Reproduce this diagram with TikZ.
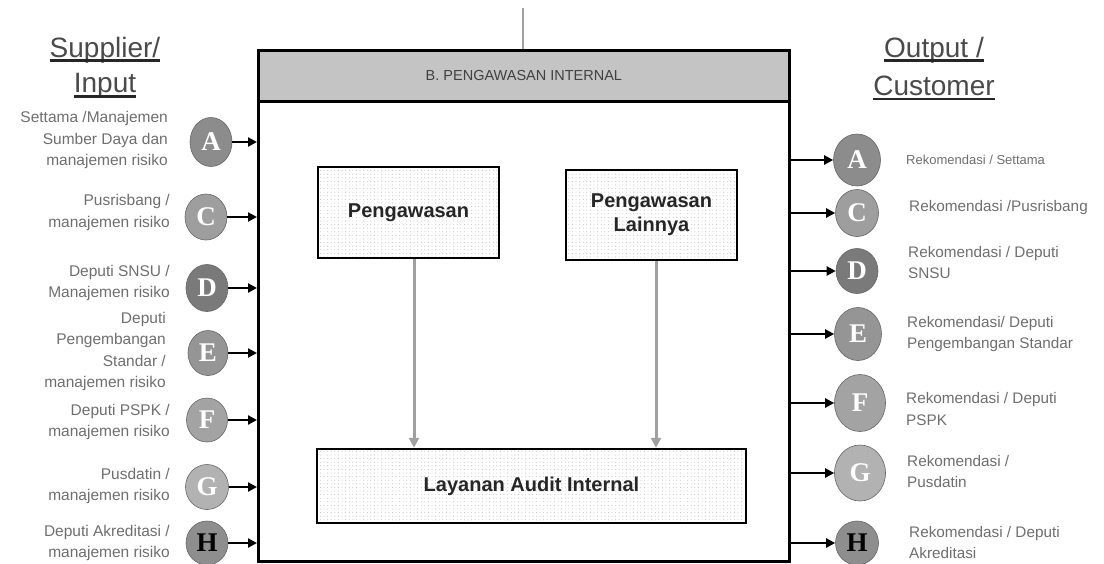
\documentclass[tikz,border=0pt]{standalone}
\usepackage{fontspec}
\setmainfont{Liberation Sans}
\newfontfamily\serifletter{Liberation Serif}
\usetikzlibrary{shapes.geometric,arrows.meta,patterns.meta}
\definecolor{txtgray}{HTML}{6E6E6E}
\definecolor{headgray}{HTML}{4A4A4A}
\definecolor{hdrfill}{HTML}{C4C4C4}
\definecolor{linegray}{HTML}{A0A0A0}
\definecolor{cA}{HTML}{8C8C8C}
\definecolor{cC}{HTML}{9E9E9E}
\definecolor{cD}{HTML}{7A7A7A}
\definecolor{cE}{HTML}{959595}
\definecolor{cF}{HTML}{A3A3A3}
\definecolor{cG}{HTML}{B2B2B2}
\definecolor{cH}{HTML}{8E8E8E}
\begin{document}
\begin{tikzpicture}[x=1pt,y=-1pt,
  bub/.style={ellipse, draw=black!60, line width=0.6pt, inner sep=0pt,
    minimum width=42pt, minimum height=46pt,
    font=\serifletter\bfseries\fontsize{27}{27}\selectfont, text=white},
  lbl/.style={text=txtgray, inner sep=0pt, font=\fontsize{15.5}{21.5}\selectfont},
  rlbl/.style={text=txtgray, inner sep=0pt, anchor=west, align=left, font=\fontsize{15.3}{21.5}\selectfont},
  heading/.style={text=headgray, inner sep=0pt, anchor=base, font=\fontsize{28}{28}\selectfont},
  uline/.style={line width=2.2pt, black!85},
  arr/.style={-{Triangle[length=9pt,width=9pt]}, line width=2.2pt, black},
  garr/.style={-{Triangle[length=10pt,width=10pt]}, line width=3pt, linegray},
  inbox/.style={draw=black, line width=2.5pt, inner sep=0pt,
    preaction={fill=white},
    pattern={Dots[distance=3.6pt,radius=0.45pt]}, pattern color=gray!60,
    font=\bfseries\fontsize{20}{24}\selectfont, text=black!85, align=center}
]
\useasboundingbox (0,0) rectangle (1104,563);

% main frame and header
\node[draw=black, line width=2.8pt, inner sep=0pt, anchor=north west,
  minimum width=531pt, minimum height=511pt] (main) at (257,49) {};
\node[draw=black, line width=2.8pt, fill=hdrfill, inner sep=0pt, anchor=north west,
  minimum width=531pt, minimum height=51pt,
  font=\fontsize{14.5}{16}\selectfont, text=black!75] (hdr) at (257,49) {B. PENGAWASAN INTERNAL};
\coordinate (top) at (523,8);
\draw[linegray, line width=2.5pt] (top) -- (top |- hdr.north);

% inner boxes
\node[inbox, minimum width=181pt, minimum height=91pt] (peng) at (408.5,212.5) {Pengawasan};
\node[inbox, minimum width=171pt, minimum height=90pt] (lain) at (651.5,215) {Pengawasan\\Lainnya};
\node[inbox, minimum width=429pt, minimum height=74pt] (lay) at (531.5,486) {Layanan Audit Internal};
\draw[garr] ([xshift=5.5pt]peng.south) -- ([xshift=5.5pt]peng.south |- lay.north);
\draw[garr] ([xshift=4.5pt]lain.south) -- ([xshift=4.5pt]lain.south |- lay.north);

% headings
\node[heading] (sup1) at (105,57) {Supplier/};
\node[heading] (sup2) at (105,92) {Input};
\draw[uline] ([yshift=-3.5pt]sup1.base west) -- ([yshift=-3.5pt]sup1.base east);
\draw[uline] ([yshift=-4.5pt]sup2.base west) -- ([yshift=-4.5pt]sup2.base east);
\node[heading] (out1) at (934,57) {Output /};
\node[heading] (out2) at (934,95) {Customer};
\draw[uline] ([yshift=-3.5pt]out1.base west) -- ([yshift=-3.5pt]out1.base east);
\draw[uline] ([yshift=-4pt]out2.base west) -- ([yshift=-4pt]out2.base east);

% left side circles
\node[bub, fill=cA, minimum height=49pt] (lA) at (211,142) {A};
\node[bub, fill=cC] (lC) at (206,217) {C};
\node[bub, fill=cD, minimum height=47pt] (lD) at (207,288) {D};
\node[bub, fill=cE, minimum width=40pt, minimum height=45pt] (lE) at (208,353) {E};
\node[bub, fill=cF, minimum width=41pt, minimum height=44pt] (lF) at (207,420) {F};
\node[bub, fill=cG, minimum width=43pt, minimum height=45pt] (lG) at (207,487) {G};
\node[bub, fill=cH, minimum height=44pt, text=black] (lH) at (207,543) {H};

\foreach \n in {lA,lC,lD,lE,lF,lG,lH}
  \draw[arr] (\n.east) -- (\n.east -| main.west);

% left labels
\node[lbl, anchor=east, align=right] (tA) at (168,140) {Settama /Manajemen\\Sumber Daya dan\\manajemen risiko};
\node[lbl, anchor=east, align=right] (tC) at (170,212.5) {Pusrisbang /\\manajemen risiko};
\node[lbl, anchor=east, align=right] (tD) at (170,283) {Deputi SNSU /\\Manajemen risiko};
\node[lbl, anchor=east, align=right] (tE) at (166,351.5) {Deputi\\Pengembangan\\Standar /\\manajemen risiko};
\node[lbl, anchor=east, align=right] (tF) at (170,422) {Deputi PSPK /\\manajemen risiko};
\node[lbl, anchor=east, align=right] (tG) at (170,486) {Pusdatin /\\manajemen risiko};
\node[lbl, anchor=east, align=right] (tH) at (170,543) {Deputi Akreditasi /\\manajemen risiko};

% right side circles
\node[bub, fill=cA, minimum width=47pt, minimum height=52pt] (rA) at (857,160) {A};
\node[bub, fill=cC, minimum width=43pt, minimum height=47pt] (rC) at (857,213) {C};
\node[bub, fill=cD, minimum width=42pt, minimum height=45pt] (rD) at (857,271) {D};
\node[bub, fill=cE, minimum width=47pt, minimum height=53pt] (rE) at (858,334) {E};
\node[bub, fill=cF, minimum width=51pt, minimum height=57pt] (rF) at (860,403) {F};
\node[bub, fill=cG, minimum width=51pt, minimum height=56pt] (rG) at (860,473) {G};
\node[bub, fill=cH, minimum width=43pt, minimum height=44pt, text=black] (rH) at (857,543) {H};

\foreach \n in {rA,rC,rD,rE,rF,rG,rH}
  \draw[arr] (\n.west -| main.east) -- (\n.west);

% right labels
\node[rlbl, font=\fontsize{13}{16}\selectfont] (uA) at (906,160) {Rekomendasi / Settama};
\node[rlbl] (uC) at (909,208) {Rekomendasi /Pusrisbang};
\node[rlbl] (uD) at (908,262.5) {Rekomendasi / Deputi\\SNSU};
\node[rlbl] (uE) at (907,334) {Rekomendasi/ Deputi\\Pengembangan Standar};
\node[rlbl] (uF) at (906,409) {Rekomendasi / Deputi\\PSPK};
\node[rlbl] (uG) at (907,471.5) {Rekomendasi /\\Pusdatin};
\node[rlbl] (uH) at (909,542.5) {Rekomendasi / Deputi\\Akreditasi};
\end{tikzpicture}
\end{document}
